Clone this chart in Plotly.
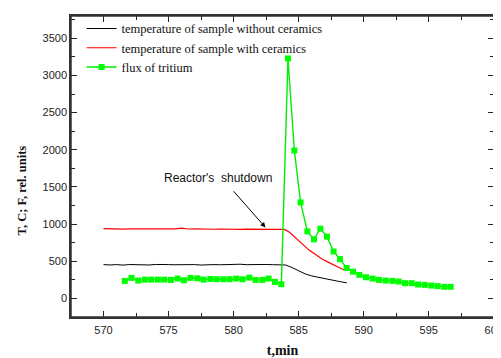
import plotly.graph_objects as go

# Temperature of sample without ceramics (black)
t_black = [570, 570.5, 571, 571.5, 572, 572.5, 573, 573.5, 574, 574.5, 575, 575.5, 576, 576.5,
           577, 577.5, 578, 578.5, 579, 579.5, 580, 580.5, 581, 581.5, 582, 582.5, 583, 583.5,
           584, 584.5, 585, 585.5, 586, 586.5, 587, 587.5, 588, 588.3, 588.7]
v_black = [455, 450, 455, 448, 456, 452, 455, 450, 457, 452, 455, 453, 456, 450,
           455, 449, 456, 455, 453, 458, 455, 460, 454, 458, 455, 457, 454, 456,
           450, 415, 370, 330, 303, 283, 265, 250, 232, 222, 210]

# Temperature of sample with ceramics (red)
t_red = [570, 570.5, 571, 571.5, 572, 572.5, 573, 573.5, 574, 574.5, 575, 575.5, 576, 576.5,
         577, 577.5, 578, 578.5, 579, 579.5, 580, 580.5, 581, 581.5, 582, 582.5, 583, 583.5,
         583.9, 584.3, 584.8, 585.3, 585.8, 586.3, 586.8, 587.3, 587.8, 588.3, 588.7]
v_red = [938, 935, 940, 933, 937, 934, 938, 935, 936, 933, 937, 935, 945, 934,
         936, 932, 935, 931, 934, 930, 933, 930, 932, 929, 931, 930, 929, 931,
         928, 890, 815, 730, 650, 585, 530, 485, 440, 400, 372]

# Flux of tritium (green)
t_flux = [571.64, 572.15, 572.67, 573.18, 573.67, 574.18, 574.67, 575.18, 575.69, 576.18,
          576.69, 577.21, 577.69, 578.21, 578.69, 579.21, 579.69, 580.21, 580.69, 581.21,
          581.69, 582.21, 582.69, 583.18, 583.67, 584.18, 584.67, 585.15, 585.67, 586.18,
          586.67, 587.18, 587.69, 588.18, 588.69, 589.18, 589.67, 590.18, 590.69, 591.18,
          591.69, 592.21, 592.69, 593.18, 593.69, 594.18, 594.69, 595.21, 595.69, 596.21,
          596.69]
v_flux = [236, 276, 240, 253, 253, 253, 253, 249, 267, 244,
          276, 271, 253, 262, 258, 258, 258, 267, 258, 280,
          249, 249, 267, 222, 191, 3229, 1990, 1292, 902, 795,
          938, 831, 631, 529, 409, 360, 316, 285, 267, 249,
          240, 236, 227, 205, 205, 187, 182, 173, 165, 156,
          156]

x_ticks = [570, 575, 580, 585, 590, 595, 600]
y_ticks = [0, 500, 1000, 1500, 2000, 2500, 3000, 3500]

serif = "Liberation Serif, Times New Roman, serif"
sans = "Liberation Sans, Arial, sans-serif"

fig = go.Figure()
fig.add_trace(go.Scatter(x=t_black, y=v_black, mode="lines",
                         line=dict(color="black", width=1),
                         name="temperature of sample without ceramics"))
fig.add_trace(go.Scatter(x=t_red, y=v_red, mode="lines",
                         line=dict(color="#ff0000", width=1.2),
                         name="temperature of sample with ceramics"))
fig.add_trace(go.Scatter(x=t_flux, y=v_flux, mode="lines+markers",
                         line=dict(color="#00ee00", width=1.4),
                         marker=dict(symbol="square", size=6, color="#00ff00"),
                         name="flux of tritium"))

axis_common = dict(showgrid=False, zeroline=False, showline=True, linecolor="#333",
                   linewidth=1.5, mirror="ticks", ticks="inside", ticklen=6,
                   tickcolor="#222", tickwidth=1.2, automargin=False,
                   tickfont=dict(family=sans, size=11, color="#222"))

fig.update_xaxes(range=[567.5, 600.02], tickvals=x_ticks, ticklabelstandoff=2,
                 minor=dict(dtick=2.5, ticks="inside", ticklen=4, tickcolor="#222"),
                 title=dict(text="<b>t,min</b>", font=dict(family=serif, size=14, color="#111"),
                            standoff=10),
                 **axis_common)
fig.update_yaxes(range=[-250, 3800], tickvals=y_ticks,
                 minor=dict(dtick=250, ticks="inside", ticklen=4, tickcolor="#222"),
                 **axis_common)

# y-axis title placed as a rotated annotation (slightly below the plot centre, as in the reference)
fig.add_annotation(xref="paper", yref="paper", x=-0.116, y=0.42, xanchor="center", yanchor="middle",
                   text="<b>T, C; F, rel. units</b>", textangle=-90, showarrow=False,
                   font=dict(family=serif, size=12.5, color="#111"))

fig.add_shape(type="rect", xref="paper", yref="paper", x0=0, x1=1, y0=0, y1=1,
              line=dict(color="#333", width=1.5), layer="above")

fig.add_annotation(x=582.45, y=955, ax=579.9, ay=1462, axref="x", ayref="y",
                   xref="x", yref="y", text="", showarrow=True, arrowhead=2,
                   arrowsize=1, arrowwidth=1, arrowcolor="black")
fig.add_annotation(x=578.8, y=1620, xref="x", yref="y", text="Reactor's\u00a0 shutdown",
                   showarrow=False, font=dict(family=sans, size=12, color="#111"))

fig.update_layout(
    width=501, height=358,
    margin=dict(l=63, r=15, t=6, b=49),
    paper_bgcolor="white", plot_bgcolor="white",
    showlegend=True,
    legend=dict(x=0.025, y=1.007, xanchor="left", yanchor="top",
                bgcolor="rgba(0,0,0,0)", font=dict(family=serif, size=12.5, color="#111"),
                itemwidth=30, tracegroupgap=0),
)

fig.write_html("out.html")
